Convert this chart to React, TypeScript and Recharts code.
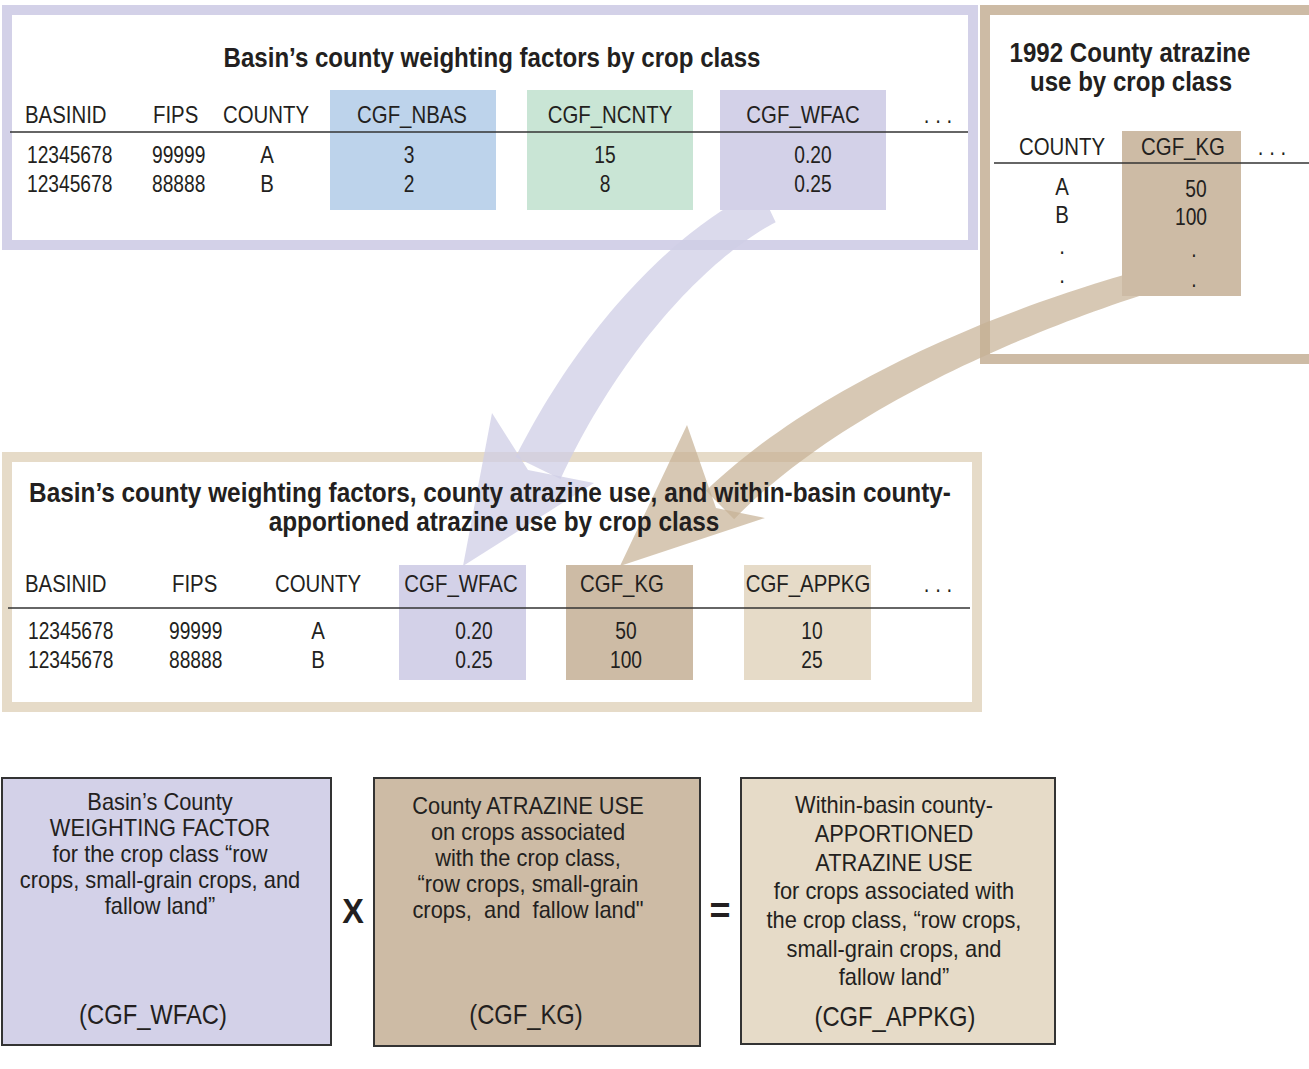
import { ComposedChart, Polygon, Rectangle, Text } from 'recharts'

// table contents
const basinIds = ['12345678', '12345678']
const fipsCodes = ['99999', '88888']
const counties = ['A', 'B']
const cgfNbas = [3, 2]
const cgfNcnty = [15, 8]
const cgfWfac = [0.2, 0.25]
const countyKg = [50, 100]
const cgfAppkg = [10, 25]

const topTitle = 'Basin’s county weighting factors by crop class'
const useTitle = ['1992 County atrazine', 'use by crop class']
const midTitle = [
  'Basin’s county weighting factors, county atrazine use, and within-basin county-',
  'apportioned atrazine use by crop class',
]

const wfacLines = ['Basin’s County', 'WEIGHTING FACTOR', 'for the crop class “row', 'crops, small-grain crops, and', 'fallow land”']
const kgLines = ['County ATRAZINE USE', 'on crops associated', 'with the crop class,', '“row crops, small-grain', 'crops,\u00a0 and\u00a0 fallow land"']
const appkgLines = ['Within-basin county-', 'APPORTIONED', 'ATRAZINE USE', 'for crops associated with', 'the crop class, “row crops,', 'small-grain crops, and', 'fallow land”']

const FONT = "'Liberation Sans', Arial, sans-serif"
const INK = '#231f20'
const PURPLE = '#d3d1e8'
const BLUE = '#bdd3eb'
const GREEN = '#c9e5d5'
const TAN = '#cdbba5'
const SAND = '#e6dbc8'

type Pt = { x: number; y: number }

// curved tapering band along a cubic bezier
function band(p: Pt[], w0: number, w1: number, n = 48) {
  const left: Pt[] = []
  const right: Pt[] = []
  for (let i = 0; i <= n; i++) {
    const t = i / n
    const a = (1 - t) ** 3
    const b = 3 * (1 - t) ** 2 * t
    const c = 3 * (1 - t) * t * t
    const d = t ** 3
    const x = a * p[0].x + b * p[1].x + c * p[2].x + d * p[3].x
    const y = a * p[0].y + b * p[1].y + c * p[2].y + d * p[3].y
    const dx = 3 * (1 - t) ** 2 * (p[1].x - p[0].x) + 6 * (1 - t) * t * (p[2].x - p[1].x) + 3 * t * t * (p[3].x - p[2].x)
    const dy = 3 * (1 - t) ** 2 * (p[1].y - p[0].y) + 6 * (1 - t) * t * (p[2].y - p[1].y) + 3 * t * t * (p[3].y - p[2].y)
    const len = Math.hypot(dx, dy)
    const w = (w0 + (w1 - w0) * t) / 2
    left.push({ x: x - (dy / len) * w, y: y + (dx / len) * w })
    right.push({ x: x + (dy / len) * w, y: y - (dx / len) * w })
  }
  return [...left, ...right.reverse()]
}

type LabelProps = {
  x: number
  y: number
  text: string | number
  size?: number
  sx?: number
  anchor?: 'start' | 'middle' | 'end'
  bold?: boolean
}

// condensed look: no narrow face installed, so squeeze horizontally
function Label({ x, y, text, size = 24, sx = 0.85, anchor = 'middle', bold = false }: LabelProps) {
  return (
    <g transform={`translate(${x} ${y}) scale(${sx} 1)`}>
      <Text x={0} y={0} textAnchor={anchor} verticalAnchor='middle' fontSize={size} fontFamily={FONT} fontWeight={bold ? 700 : 400} fill={INK}>
        {String(text)}
      </Text>
    </g>
  )
}

const Title = (p: LabelProps) => <Label size={28} sx={0.86} bold {...p} />
const BoxText = (p: LabelProps) => <Label size={23} sx={0.95} {...p} />

type Col = { header: string; values: string[]; hx: number; vx: number; anchor: 'start' | 'middle' }

function Table({ cols, headerY, rowY, lineX, lineY, dotsX }: { cols: Col[]; headerY: number; rowY: number[]; lineX: [number, number]; lineY: number; dotsX: number }) {
  return (
    <g>
      {cols.map((c) => (
        <Label key={c.header} x={c.hx} y={headerY} text={c.header} anchor={c.anchor} />
      ))}
      <Label x={dotsX} y={headerY} text='. . .' />
      <line x1={lineX[0]} x2={lineX[1]} y1={lineY} y2={lineY} stroke='#333' strokeWidth={1.5} />
      {cols.map((c) =>
        c.values.map((v, i) => <Label key={c.header + i} x={c.vx} y={rowY[i]} text={v} anchor={c.anchor} sx={0.8} />),
      )}
    </g>
  )
}

export default function App() {
  const fmt2 = (v: number) => v.toFixed(2)
  const s = (v: number) => String(v)

  const topCols: Col[] = [
    { header: 'BASINID', values: basinIds, hx: 25, vx: 27, anchor: 'start' },
    { header: 'FIPS', values: fipsCodes, hx: 153, vx: 152, anchor: 'start' },
    { header: 'COUNTY', values: [], hx: 223, vx: 0, anchor: 'start' },
    { header: 'CGF_NBAS', values: cgfNbas.map(s), hx: 412, vx: 409, anchor: 'middle' },
    { header: 'CGF_NCNTY', values: cgfNcnty.map(s), hx: 610, vx: 605, anchor: 'middle' },
    { header: 'CGF_WFAC', values: cgfWfac.map(fmt2), hx: 803, vx: 813, anchor: 'middle' },
  ]
  const midCols: Col[] = [
    { header: 'BASINID', values: basinIds, hx: 25, vx: 28, anchor: 'start' },
    { header: 'FIPS', values: fipsCodes, hx: 172, vx: 169, anchor: 'start' },
    { header: 'COUNTY', values: [], hx: 275, vx: 0, anchor: 'start' },
    { header: 'CGF_WFAC', values: cgfWfac.map(fmt2), hx: 461, vx: 474, anchor: 'middle' },
    { header: 'CGF_KG', values: countyKg.map(s), hx: 622, vx: 626, anchor: 'middle' },
    { header: 'CGF_APPKG', values: cgfAppkg.map(s), hx: 808, vx: 812, anchor: 'middle' },
  ]

  const purpleArrow = band(
    [
      { x: 768, y: 206 },
      { x: 700, y: 238 },
      { x: 605, y: 330 },
      { x: 538, y: 468 },
    ],
    36,
    50,
  )
  const tanArrow = band(
    [
      { x: 1150, y: 280 },
      { x: 1020, y: 318 },
      { x: 830, y: 395 },
      { x: 720, y: 505 },
    ],
    24,
    40,
  )

  return (
    <div style={{ position: 'absolute', left: 0, top: 0, width: 1309, height: 1069, background: '#fff' }}>
      <ComposedChart width={1309} height={1069} margin={{ top: 0, right: 0, bottom: 0, left: 0 }} data={[]}>
        {/* frames */}
        <Rectangle x={7} y={10} width={966} height={235} fill='none' stroke={PURPLE} strokeWidth={10} />
        <Rectangle x={985} y={10} width={340} height={349} fill='none' stroke={TAN} strokeWidth={10} />
        <Rectangle x={7} y={457} width={970} height={250} fill='none' stroke={SAND} strokeWidth={10} />

        {/* arrows */}
        <Polygon points={purpleArrow} fill='#cfcde6' fillOpacity={0.75} stroke='none' />
        <Polygon
          points={[
            { x: 492, y: 413 },
            { x: 528, y: 470 },
            { x: 594, y: 483 },
            { x: 463, y: 566 },
          ]}
          fill='#cfcde6'
          fillOpacity={0.75}
          stroke='none'
        />
        <Polygon points={tanArrow} fill='#c6b194' fillOpacity={0.7} stroke='none' />
        <Polygon
          points={[
            { x: 687, y: 425 },
            { x: 716, y: 508 },
            { x: 765, y: 518 },
            { x: 620, y: 566 },
          ]}
          fill='#c6b194'
          fillOpacity={0.7}
          stroke='none'
        />

        {/* column highlights */}
        <Rectangle x={330} y={90} width={166} height={120} fill={BLUE} />
        <Rectangle x={527} y={90} width={166} height={120} fill={GREEN} />
        <Rectangle x={720} y={90} width={166} height={120} fill={PURPLE} />
        <Rectangle x={1122} y={131} width={119} height={165} fill={TAN} />
        <Rectangle x={399} y={565} width={127} height={115} fill={PURPLE} />
        <Rectangle x={566} y={565} width={127} height={115} fill={TAN} />
        <Rectangle x={744} y={565} width={127} height={115} fill={SAND} />

        {/* top table */}
        <Title x={492} y={57} text={topTitle} />
        <Table cols={topCols} headerY={114} rowY={[154, 183]} lineX={[10, 968]} lineY={132} dotsX={938} />
        {counties.map((c, i) => (
          <Label key={'tc' + c} x={267} y={[154, 183][i]} text={c} />
        ))}

        {/* county use table */}
        <Title x={1130} y={52} text={useTitle[0]} />
        <Title x={1131} y={81} text={useTitle[1]} />
        <Label x={1062} y={146} text='COUNTY' />
        <Label x={1183} y={146} text='CGF_KG' />
        <Label x={1272} y={146} text='. . .' />
        <line x1={994} x2={1309} y1={163} y2={163} stroke='#333' strokeWidth={1.5} />
        {[...counties, '.', '.'].map((c, i) => (
          <Label key={'uc' + i} x={1062} y={[186, 214, 245, 274][i]} text={c} />
        ))}
        {[...countyKg.map(s), '.', '.'].map((v, i) => (
          <Label key={'uk' + i} x={[1196, 1191, 1194, 1194][i]} y={[188, 216, 248, 278][i]} text={v} sx={0.8} />
        ))}

        {/* combined table */}
        <Title x={490} y={492} text={midTitle[0]} sx={0.87} />
        <Title x={494} y={521} text={midTitle[1]} sx={0.87} />
        <Table cols={midCols} headerY={583} rowY={[630, 659]} lineX={[8, 970]} lineY={608} dotsX={938} />
        {counties.map((c, i) => (
          <Label key={'mc' + c} x={318} y={[630, 659][i]} text={c} />
        ))}

        {/* equation boxes */}
        <Rectangle x={2} y={778} width={329} height={267} fill={PURPLE} stroke='#333' strokeWidth={2} />
        <Rectangle x={374} y={778} width={326} height={268} fill={TAN} stroke='#333' strokeWidth={2} />
        <Rectangle x={741} y={778} width={314} height={266} fill={SAND} stroke='#333' strokeWidth={2} />
        {wfacLines.map((l, i) => (
          <BoxText key={'w' + i} x={160} y={802 + i * 26} text={l} />
        ))}
        <Label x={153} y={1014} text='(CGF_WFAC)' size={27} sx={0.88} />
        {kgLines.map((l, i) => (
          <BoxText key={'k' + i} x={528} y={806 + i * 26} text={l} />
        ))}
        <Label x={526} y={1014} text='(CGF_KG)' size={27} sx={0.88} />
        {appkgLines.map((l, i) => (
          <BoxText key={'a' + i} x={894} y={805 + i * 28.7} text={l} />
        ))}
        <Label x={895} y={1016} text='(CGF_APPKG)' size={27} sx={0.88} />
        <Label x={353} y={910} text='X' size={36} sx={0.9} bold />
        <Label x={720} y={910} text='=' size={36} sx={1} bold />
      </ComposedChart>
    </div>
  )
}
